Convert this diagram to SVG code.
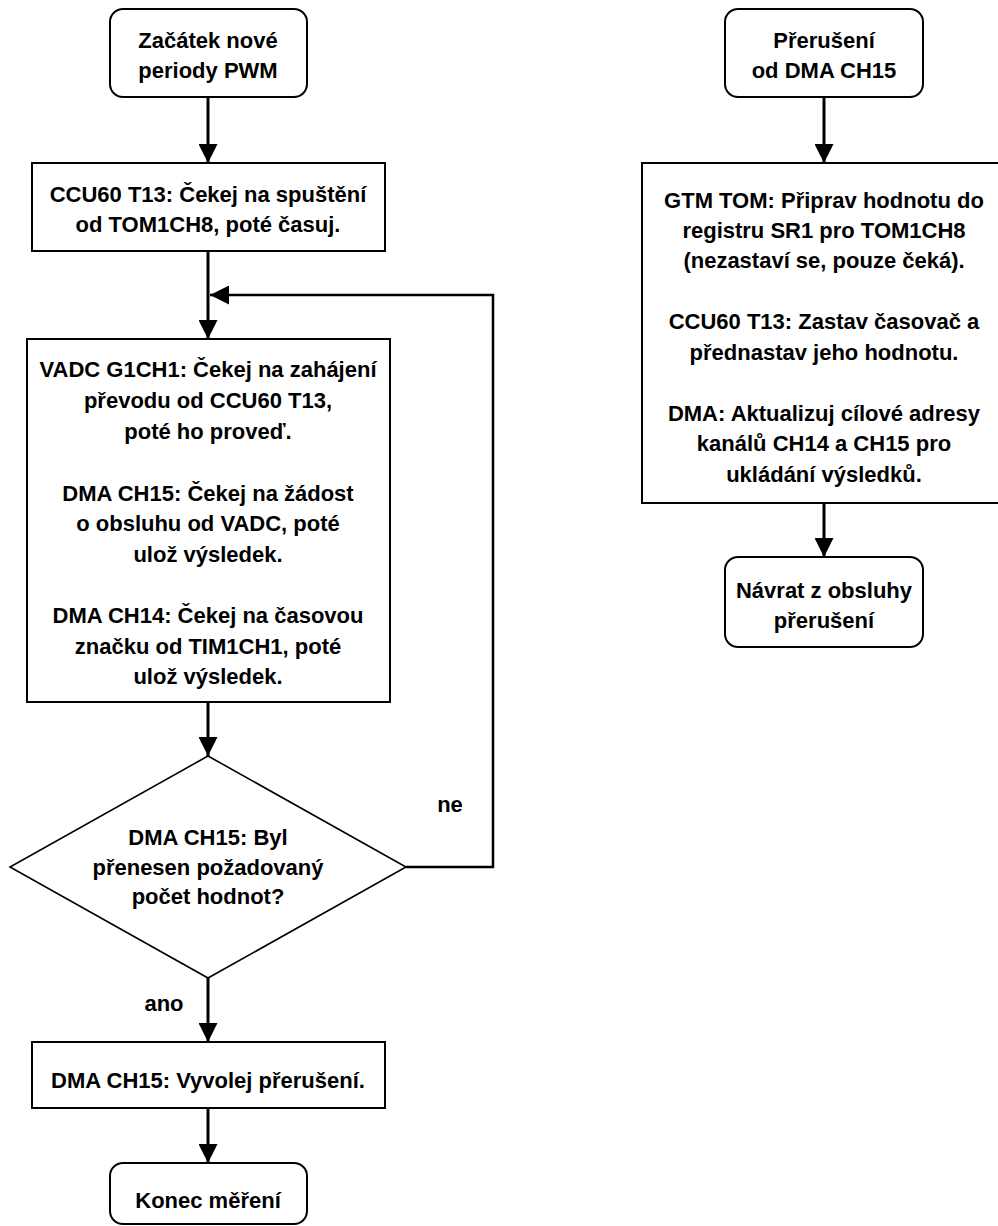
<svg xmlns="http://www.w3.org/2000/svg" width="998" height="1226" viewBox="0 0 998 1226">
  <style>
    .box { fill: #ffffff; stroke: #000000; stroke-width: 2; }
    .dec { fill: #ffffff; stroke: #000000; stroke-width: 1.6; }
    .conn { fill: none; stroke: #000000; stroke-width: 3; }
    .loop { fill: none; stroke: #000000; stroke-width: 2.5; }
    text { font-family: "Liberation Sans", Arial, sans-serif; font-weight: bold; font-size: 22px; fill: #000000; text-anchor: middle; }
  </style>
  <defs>
    <marker id="arrow" markerUnits="userSpaceOnUse" markerWidth="19" markerHeight="19" refX="19" refY="9.5" orient="auto">
      <path d="M0,0 L19,9.5 L0,19 z" fill="#000000"/>
    </marker>
  </defs>

  <!-- connectors -->
  <g id="connectors">
    <line class="conn" x1="208" y1="97" x2="208" y2="163" marker-end="url(#arrow)"/>
    <line class="conn" x1="208" y1="251" x2="208" y2="339" marker-end="url(#arrow)"/>
    <line class="conn" x1="208" y1="702" x2="208" y2="756" marker-end="url(#arrow)"/>
    <polyline class="loop" points="406,867 493,867 493,295 210,295" marker-end="url(#arrow)"/>
    <line class="conn" x1="208" y1="978" x2="208" y2="1042" marker-end="url(#arrow)"/>
    <line class="conn" x1="208" y1="1108" x2="208" y2="1163" marker-end="url(#arrow)"/>
    <line class="conn" x1="824" y1="97" x2="824" y2="163" marker-end="url(#arrow)"/>
    <line class="conn" x1="824" y1="503" x2="824" y2="557" marker-end="url(#arrow)"/>
    <text x="450" y="812">ne</text>
    <text x="164" y="1011">ano</text>
  </g>

  <!-- left flow -->
  <g id="start-pwm">
    <rect class="box" x="110" y="9" width="197" height="88" rx="13"/>
    <text x="208" y="48">Začátek nové</text>
    <text x="208" y="78">periody PWM</text>
  </g>

  <g id="ccu-wait">
    <rect class="box" x="32" y="163" width="353" height="88"/>
    <text x="208" y="202">CCU60 T13: Čekej na spuštění</text>
    <text x="208" y="232">od TOM1CH8, poté časuj.</text>
  </g>

  <g id="conversion">
    <rect class="box" x="27" y="339" width="363" height="363"/>
    <text x="208" y="377">VADC G1CH1: Čekej na zahájení</text>
    <text x="208" y="408">převodu od CCU60 T13,</text>
    <text x="208" y="439">poté ho proveď.</text>
    <text x="208" y="501">DMA CH15: Čekej na žádost</text>
    <text x="208" y="531">o obsluhu od VADC, poté</text>
    <text x="208" y="562">ulož výsledek.</text>
    <text x="208" y="623">DMA CH14: Čekej na časovou</text>
    <text x="208" y="654">značku od TIM1CH1, poté</text>
    <text x="208" y="684">ulož výsledek.</text>
  </g>

  <g id="count-check">
    <polygon class="dec" points="208,756 406,867 208,978 10,867"/>
    <text x="208" y="845">DMA CH15: Byl</text>
    <text x="208" y="875">přenesen požadovaný</text>
    <text x="208" y="904">počet hodnot?</text>
  </g>

  <g id="raise-irq">
    <rect class="box" x="32" y="1042" width="353" height="66"/>
    <text x="208" y="1088">DMA CH15: Vyvolej přerušení.</text>
  </g>

  <g id="end-measure">
    <rect class="box" x="110" y="1163" width="197" height="61" rx="13"/>
    <text x="208" y="1208">Konec měření</text>
  </g>

  <!-- interrupt handler -->
  <g id="irq-start">
    <rect class="box" x="725" y="9" width="198" height="88" rx="13"/>
    <text x="824" y="48">Přerušení</text>
    <text x="824" y="78">od DMA CH15</text>
  </g>

  <g id="irq-body">
    <rect class="box" x="642" y="163" width="364" height="340"/>
    <text x="824" y="208">GTM TOM: Připrav hodnotu do</text>
    <text x="824" y="238">registru SR1 pro TOM1CH8</text>
    <text x="824" y="268">(nezastaví se, pouze čeká).</text>
    <text x="824" y="329">CCU60 T13: Zastav časovač a</text>
    <text x="824" y="360">přednastav jeho hodnotu.</text>
    <text x="824" y="421">DMA: Aktualizuj cílové adresy</text>
    <text x="824" y="451">kanálů CH14 a CH15 pro</text>
    <text x="824" y="482">ukládání výsledků.</text>
  </g>

  <g id="irq-return">
    <rect class="box" x="725" y="557" width="198" height="90" rx="13"/>
    <text x="824" y="598">Návrat z obsluhy</text>
    <text x="824" y="628">přerušení</text>
  </g>
</svg>
